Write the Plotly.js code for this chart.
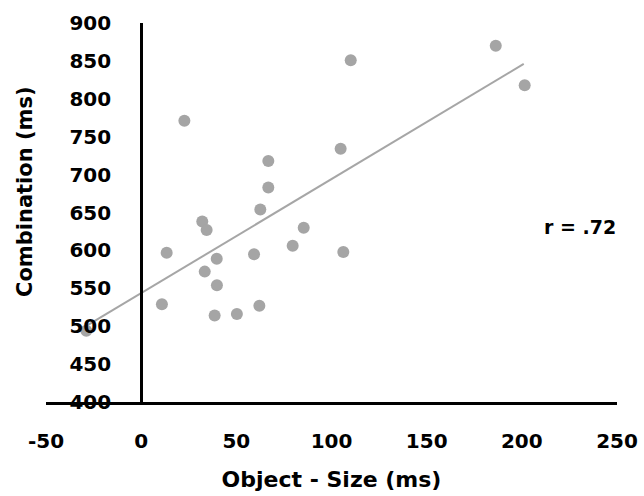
<!DOCTYPE html>
<html>
<head>
<meta charset="utf-8">
<script src="https://cdn.plot.ly/plotly-3.0.1.min.js"></script>
<style>html,body{margin:0;padding:0;background:#fff}#chart{width:644px;height:496px}</style>
</head>
<body>
<div id="chart"></div>
<script>
// Data
const objectMinusSize = [22.7, 66.8, 66.8, 62.6, 32.1, 34.4, 85.4, 79.6, 13.4, 59.3, 39.7, 33.4, 39.8, 10.9, 62.1, 38.6, 50.3, -28.8, 110.1, 186.3, 201.5, 104.8, 106.2];
const combination    = [771, 718, 683, 654, 638, 627, 630, 606, 597, 595, 589, 572, 554, 529, 527, 514, 516, 494, 851, 870, 818, 734, 598];
const trendX = [-29, 201];
const trendY = [500, 846];
const xTicks = [-50, 0, 50, 100, 150, 200, 250];
const yTicks = [400, 450, 500, 550, 600, 650, 700, 750, 800, 850, 900];
const xTitle = "Object - Size (ms)";
const yTitle = "Combination (ms)";
const rLabel = "r = .72";

const FONT = "'DejaVu Sans', sans-serif";

const traces = [
  {
    x: objectMinusSize, y: combination, type: "scatter", mode: "markers",
    marker: {color: "#a5a5a5", size: 12}, showlegend: false, hoverinfo: "x+y"
  },
  {
    x: trendX, y: trendY, type: "scatter", mode: "lines",
    line: {color: "#a6a6a6", width: 2}, showlegend: false, hoverinfo: "skip"
  }
];

const layout = {
  width: 644, height: 496,
  margin: {l: 46, r: 27, t: 23, b: 94},
  paper_bgcolor: "#ffffff", plot_bgcolor: "#ffffff",
  font: {family: FONT, size: 20, color: "#000000", weight: "bold"},
  showlegend: false,
  xaxis: {
    range: [-50, 250], tickmode: "array", tickvals: xTicks, ticktext: xTicks.map(String),
    showgrid: false, zeroline: false, showline: true, linecolor: "#000000", linewidth: 2.5,
    ticks: "", ticklabelstandoff: 19,
    tickfont: {family: FONT, size: 20, color: "#000000", weight: "bold"},
    title: {text: xTitle, font: {family: FONT, size: 22, color: "#000000", weight: "bold"}, standoff: 20},
    automargin: false
  },
  yaxis: {
    range: [400, 900], tickmode: "array", tickvals: yTicks, ticktext: yTicks.map(String),
    anchor: "free", position: 50/300, side: "left",
    showgrid: false, zeroline: false, showline: true, linecolor: "#000000", linewidth: 2.5,
    ticks: "", ticklabelstandoff: 25,
    tickfont: {family: FONT, size: 20, color: "#000000", weight: "bold"},
    title: {text: ""},
    automargin: false
  },
  annotations: [
    {x: -0.0368, y: 0.5567, xref: "paper", yref: "paper", text: yTitle, textangle: -90,
     showarrow: false, xanchor: "center", yanchor: "middle",
     font: {family: FONT, size: 21, color: "#000000", weight: "bold"}},
    {x: 230.6, y: 631, xref: "x", yref: "y", text: rLabel, showarrow: false,
     font: {family: FONT, size: 19, color: "#000000", weight: "bold"}}
  ]
};

Plotly.newPlot("chart", traces, layout, {displayModeBar: false, staticPlot: true});
</script>
</body>
</html>
